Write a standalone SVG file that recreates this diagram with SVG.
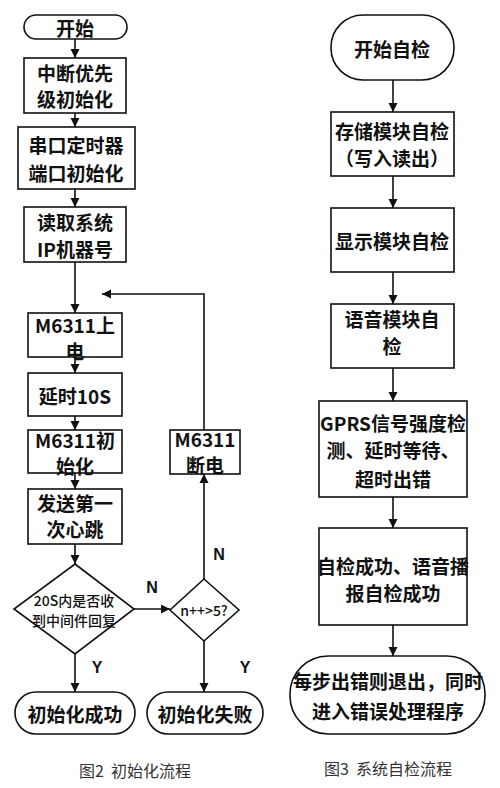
<svg xmlns="http://www.w3.org/2000/svg" width="500" height="788" viewBox="0 0 500 788">
<defs>
<marker id="ah" markerWidth="10" markerHeight="10" refX="9" refY="5" orient="auto" markerUnits="userSpaceOnUse">
<path d="M0,0.5 L9,5 L0,9.5 Z" fill="#111"/>
</marker>
<style>
.box{fill:#fff;stroke:#111;stroke-width:1.6}
.t{font-family:"Noto Sans CJK SC","Liberation Sans",sans-serif;font-size:19px;font-weight:700;fill:#111;text-anchor:middle;dominant-baseline:central}
.s{font-family:"Noto Sans CJK SC","Liberation Sans",sans-serif;font-size:14px;font-weight:500;fill:#111;text-anchor:middle;dominant-baseline:central}
.lab{font-family:"Liberation Sans",Arial,sans-serif;font-size:16px;font-weight:700;fill:#111;text-anchor:middle;dominant-baseline:central}
.cap{font-family:"Noto Sans CJK SC","Liberation Sans",sans-serif;font-size:16px;fill:#333;text-anchor:middle;dominant-baseline:central}
.c{fill:none;stroke:#111;stroke-width:1.6}
</style>
</defs>
<rect width="500" height="788" fill="#fff"/>

<g id="connectors">
<line class="c" x1="75" y1="39" x2="75" y2="58" marker-end="url(#ah)"/>
<line class="c" x1="75" y1="113" x2="75" y2="127" marker-end="url(#ah)"/>
<line class="c" x1="75" y1="189" x2="75" y2="207" marker-end="url(#ah)"/>
<line class="c" x1="75" y1="262" x2="75" y2="313" marker-end="url(#ah)"/>
<line class="c" x1="75" y1="357" x2="75" y2="373" marker-end="url(#ah)"/>
<line class="c" x1="75" y1="416" x2="75" y2="430" marker-end="url(#ah)"/>
<line class="c" x1="75" y1="473" x2="75" y2="489" marker-end="url(#ah)"/>
<line class="c" x1="75" y1="544" x2="75" y2="564" marker-end="url(#ah)"/>
<line class="c" x1="134" y1="609" x2="170" y2="609" marker-end="url(#ah)"/>
<line class="c" x1="75" y1="654" x2="75" y2="692" marker-end="url(#ah)"/>
<line class="c" x1="204" y1="641" x2="204" y2="692" marker-end="url(#ah)"/>
<line class="c" x1="204" y1="579" x2="204" y2="474" marker-end="url(#ah)"/>
<polyline class="c" points="204,430 204,294 102,294" marker-end="url(#ah)"/>
<text class="lab" x="152" y="587">N</text>
<text class="lab" x="219" y="554">N</text>
<text class="lab" x="97" y="667">Y</text>
<text class="lab" x="245" y="667">Y</text>

<line class="c" x1="393" y1="80" x2="393" y2="112" marker-end="url(#ah)"/>
<line class="c" x1="393" y1="176" x2="393" y2="208" marker-end="url(#ah)"/>
<line class="c" x1="393" y1="272" x2="393" y2="304" marker-end="url(#ah)"/>
<line class="c" x1="393" y1="368" x2="393" y2="401" marker-end="url(#ah)"/>
<line class="c" x1="393" y1="497" x2="393" y2="528" marker-end="url(#ah)"/>
<line class="c" x1="393" y1="625" x2="393" y2="656" marker-end="url(#ah)"/>
</g>

<g id="start">
<rect class="box" x="24" y="15" width="103" height="24" rx="12"/>
<text class="t" x="75" y="27">开始</text>
</g>
<g id="int-init">
<rect class="box" x="24" y="58" width="102" height="55"/>
<text class="t" x="75" y="72">中断优先</text>
<text class="t" x="75" y="98">级初始化</text>
</g>
<g id="uart-init">
<rect class="box" x="18" y="127" width="117" height="62"/>
<text class="t" x="76" y="144">串口定时器</text>
<text class="t" x="76" y="172">端口初始化</text>
</g>
<g id="read-ip">
<rect class="box" x="24" y="207" width="102" height="55"/>
<text class="t" x="75" y="221">读取系统</text>
<text class="t" x="75" y="248">IP机器号</text>
</g>
<g id="power-on">
<rect class="box" x="28" y="313" width="94" height="44"/>
<text class="t" x="75" y="324">M6311上</text>
<text class="t" x="75" y="350">电</text>
</g>
<g id="delay">
<rect class="box" x="28" y="373" width="94" height="43"/>
<text class="t" x="75" y="395">延时10S</text>
</g>
<g id="m-init">
<rect class="box" x="28" y="430" width="94" height="43"/>
<text class="t" x="75" y="439">M6311初</text>
<text class="t" x="75" y="465">始化</text>
</g>
<g id="heartbeat">
<rect class="box" x="28" y="489" width="94" height="55"/>
<text class="t" x="75" y="502">发送第一</text>
<text class="t" x="75" y="528">次心跳</text>
</g>
<g id="reply-check">
<polygon class="box" points="75,564 134,609 75,654 14,609"/>
<text class="s" x="74" y="600">20S内是否收</text>
<text class="s" x="74" y="620">到中间件回复</text>
</g>
<g id="count-check">
<polygon class="box" points="204,579 239,610 204,641 170,610"/>
<text class="s" x="204" y="610">n++&gt;5?</text>
</g>
<g id="power-off">
<rect class="box" x="170" y="430" width="70" height="44"/>
<text class="t" x="205" y="438">M6311</text>
<text class="t" x="205" y="464">断电</text>
</g>
<g id="init-ok">
<rect class="box" x="15" y="692" width="120" height="42" rx="21"/>
<text class="t" x="75" y="713">初始化成功</text>
</g>
<g id="init-fail">
<rect class="box" x="147" y="692" width="116" height="42" rx="21"/>
<text class="t" x="205" y="713">初始化失败</text>
</g>
<text class="cap" x="135" y="770" xml:space="preserve">图2  初始化流程</text>

<g id="self-start">
<rect class="box" x="331" y="15" width="123" height="65" rx="32"/>
<text class="t" x="392" y="48">开始自检</text>
</g>
<g id="storage">
<rect class="box" x="331" y="112" width="123" height="64"/>
<text class="t" x="392" y="130">存储模块自检</text>
<text class="t" x="392" y="157">（写入读出）</text>
</g>
<g id="display">
<rect class="box" x="331" y="208" width="123" height="64"/>
<text class="t" x="392" y="240">显示模块自检</text>
</g>
<g id="voice">
<rect class="box" x="331" y="304" width="123" height="64"/>
<text class="t" x="392" y="318">语音模块自</text>
<text class="t" x="392" y="345">检</text>
</g>
<g id="gprs">
<rect class="box" x="319" y="401" width="148" height="96"/>
<text class="t" x="393" y="422">GPRS信号强度检</text>
<text class="t" x="393" y="449">测、延时等待、</text>
<text class="t" x="393" y="478">超时出错</text>
</g>
<g id="success">
<rect class="box" x="319" y="528" width="148" height="97"/>
<text class="t" x="393" y="565">自检成功、语音播</text>
<text class="t" x="393" y="592">报自检成功</text>
</g>
<g id="error">
<rect class="box" x="290" y="656" width="195" height="78" rx="38"/>
<text class="t" x="388" y="680">每步出错则退出，同时</text>
<text class="t" x="388" y="710">进入错误处理程序</text>
</g>
<text class="cap" x="388" y="768" xml:space="preserve">图3  系统自检流程</text>
</svg>
